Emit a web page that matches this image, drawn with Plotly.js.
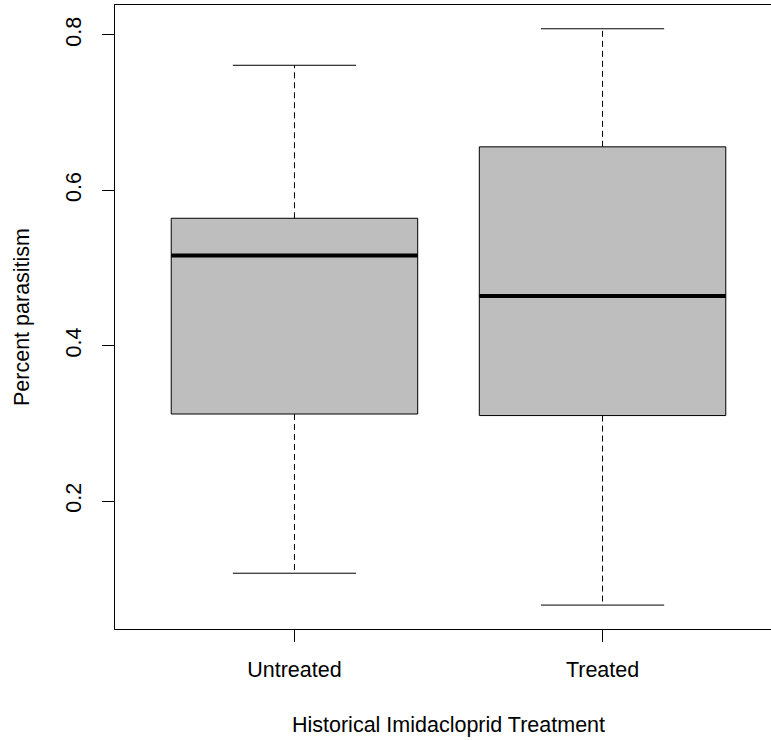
<!DOCTYPE html>
<html>
<head>
<meta charset="utf-8">
<script src="https://cdn.plot.ly/plotly-3.0.1.min.js"></script>
<style>
html, body { margin: 0; padding: 0; overflow: hidden; background: #fff; }
#chart { width: 790px; height: 740px; }
</style>
</head>
<body>
<div id="chart"></div>
<script>
// Data
const categories = ["Untreated", "Treated"];
const positions = [1, 2];
const lowerWhisker = [0.107, 0.066];
const q1Values = [0.312, 0.310];
const medianValues = [0.516, 0.464];
const q3Values = [0.564, 0.656];
const upperWhisker = [0.761, 0.808];
const yTickValues = [0.2, 0.4, 0.6, 0.8];
const yTickLabels = ["0.2", "0.4", "0.6", "0.8"];

const boxHalf = 0.4;
const capHalf = 0.2;

const traces = [];

// Boxes (quartiles only; whiskers drawn separately as dashed lines)
traces.push({
  type: "box",
  x: positions,
  q1: q1Values,
  median: medianValues,
  q3: q3Values,
  lowerfence: q1Values,
  upperfence: q3Values,
  width: 2 * boxHalf,
  whiskerwidth: 0,
  fillcolor: "#BEBEBE",
  line: { color: "#000000", width: 1 },
  hoverinfo: "skip",
  showlegend: false
});

const wx = [], wy = [];
const cx = [], cy = [];
const mx = [], my = [];
positions.forEach((p, i) => {
  wx.push(p, p, null, p, p, null);
  wy.push(q3Values[i], upperWhisker[i], null, q1Values[i], lowerWhisker[i], null);
  cx.push(p - capHalf, p + capHalf, null, p - capHalf, p + capHalf, null);
  cy.push(upperWhisker[i], upperWhisker[i], null, lowerWhisker[i], lowerWhisker[i], null);
  mx.push(p - boxHalf, p + boxHalf, null);
  my.push(medianValues[i], medianValues[i], null);
});

traces.push({
  type: "scatter", mode: "lines", x: wx, y: wy,
  line: { color: "#000000", width: 1, dash: "6px,4px" },
  hoverinfo: "skip", showlegend: false
});
traces.push({
  type: "scatter", mode: "lines", x: cx, y: cy,
  line: { color: "#000000", width: 1 },
  hoverinfo: "skip", showlegend: false
});
traces.push({
  type: "scatter", mode: "lines", x: mx, y: my,
  line: { color: "#000000", width: 4 },
  hoverinfo: "skip", showlegend: false
});

const font = { family: "Liberation Sans, Arial, sans-serif", size: 21.5, color: "#000000" };

const layout = {
  width: 790,
  height: 740,
  margin: { l: 115, r: 8, t: 5, b: 111 },
  paper_bgcolor: "#ffffff",
  plot_bgcolor: "#ffffff",
  font: font,
  showlegend: false,
  xaxis: {
    range: [0.4175, 2.5825],
    tickvals: positions,
    ticktext: categories,
    ticks: "outside",
    ticklen: 12,
    tickcolor: "#000000",
    tickwidth: 1,
    ticklabelstandoff: 9,
    showline: true,
    mirror: true,
    linecolor: "#000000",
    linewidth: 1,
    showgrid: false,
    zeroline: false,
    tickfont: font,
    title: { text: "Historical Imidacloprid Treatment", font: font, standoff: 36 }
  },
  yaxis: {
    range: [0.0352, 0.8386],
    tickvals: yTickValues,
    ticktext: yTickLabels,
    tickangle: -90,
    ticks: "outside",
    ticklen: 12,
    tickcolor: "#000000",
    tickwidth: 1,
    ticklabelstandoff: 12,
    showline: true,
    mirror: true,
    linecolor: "#000000",
    linewidth: 1,
    showgrid: false,
    zeroline: false,
    tickfont: font,
    title: { text: "Percent parasitism", font: font, standoff: 26 }
  }
};

Plotly.newPlot("chart", traces, layout, { displayModeBar: false, staticPlot: true });
</script>
</body>
</html>
